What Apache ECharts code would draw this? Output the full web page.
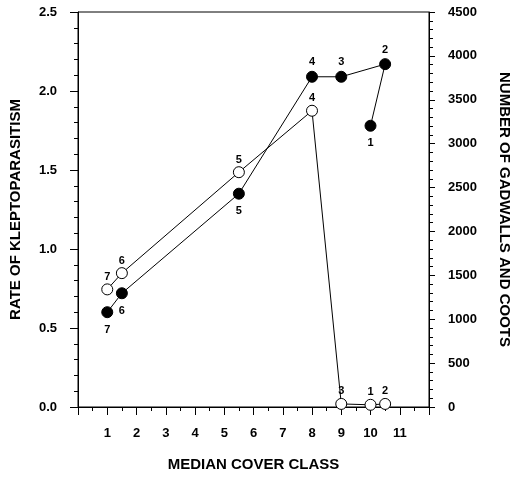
<!DOCTYPE html>
<html>
<head>
<meta charset="utf-8">
<script src="https://cdn.jsdelivr.net/npm/echarts@6/dist/echarts.min.js"></script>
<style>html,body{margin:0;padding:0;background:#fff}#c{width:520px;height:477px}</style>
</head>
<body>
<div id="c"></div>
<script>
// Filled circles: rate of kleptoparasitism (left axis)
const filledX = [1, 1.5, 5.5, 8, 9, 10.5, 10];
const filledY = [0.60, 0.72, 1.35, 2.09, 2.09, 2.17, 1.78];
const filledLabels = ['7', '6', '5', '4', '3', '2', '1'];
// Open circles: number of gadwalls and coots (right axis)
const openX = [1, 1.5, 5.5, 8, 9, 10, 10.5];
const openY = [1340, 1525, 2675, 3375, 35, 25, 35];
const openLabels = ['7', '6', '5', '4', '3', '1', '2'];
const xTicks = [1, 2, 3, 4, 5, 6, 7, 8, 9, 10, 11];
const leftTicks = [0, 0.5, 1.0, 1.5, 2.0, 2.5];
const rightTicks = [0, 500, 1000, 1500, 2000, 2500, 3000, 3500, 4000, 4500];

const FONT = 'Liberation Sans';
const filledBelow = new Set(['7', '6', '5', '1']);

const filledData = filledX.map((x, i) => {
  const below = filledBelow.has(filledLabels[i]);
  return {
    value: [x, filledY[i]],
    label: { position: below ? 'bottom' : 'top', distance: below ? 6 : 3, formatter: filledLabels[i] }
  };
});
const openData = openX.map((x, i) => ({
  value: [x, openY[i]],
  label: { position: 'top', distance: 1, formatter: openLabels[i] }
}));

const axisLabelStyle = { color: '#000', fontFamily: FONT, fontWeight: 'bold', fontSize: 13 };
const nameStyle = { color: '#000', fontFamily: FONT, fontWeight: 'bold', fontSize: 15 };

const chart = echarts.init(document.getElementById('c'), null, { renderer: 'canvas' });
chart.setOption({
  animation: false,
  backgroundColor: '#fff',
  grid: { left: 77, right: 83, top: 12, bottom: 69, show: true, borderColor: '#000', borderWidth: 1 },
  xAxis: {
    type: 'value', min: 0, max: 12, interval: 1,
    name: 'MEDIAN COVER CLASS', nameLocation: 'middle', nameGap: 50, nameTextStyle: nameStyle,
    axisLine: { lineStyle: { color: '#000', width: 1 } },
    axisTick: { length: 8, lineStyle: { color: '#000' } },
    minorTick: { show: true, splitNumber: 2, length: 4, lineStyle: { color: '#000' } },
    splitLine: { show: false },
    axisLabel: Object.assign({}, axisLabelStyle, {
      margin: 20,
      formatter: v => (xTicks.includes(v) ? String(v) : '')
    })
  },
  yAxis: [
    {
      type: 'value', min: 0, max: 2.5, interval: 0.5, position: 'left',
      name: 'RATE OF KLEPTOPARASITISM', nameLocation: 'middle', nameRotate: 90, nameGap: 55,
      nameTextStyle: nameStyle,
      axisLine: { show: true, lineStyle: { color: '#000' } },
      axisTick: { show: true, length: 8, lineStyle: { color: '#000' } },
      minorTick: { show: true, splitNumber: 5, length: 4, lineStyle: { color: '#000' } },
      splitLine: { show: false },
      axisLabel: Object.assign({}, axisLabelStyle, {
        margin: 21,
        formatter: v => (leftTicks.some(t => Math.abs(t - v) < 1e-9) ? v.toFixed(1) : '')
      })
    },
    {
      type: 'value', min: 0, max: 4500, interval: 500, position: 'right',
      name: 'NUMBER OF GADWALLS AND COOTS', nameLocation: 'middle', nameRotate: -90, nameGap: 68,
      nameTextStyle: nameStyle,
      axisLine: { show: true, lineStyle: { color: '#000' } },
      axisTick: { show: true, length: 6, lineStyle: { color: '#000' } },
      minorTick: { show: true, splitNumber: 5, length: 4, lineStyle: { color: '#000' } },
      splitLine: { show: false },
      axisLabel: Object.assign({}, axisLabelStyle, {
        margin: 19,
        formatter: v => (rightTicks.includes(v) ? String(v) : '')
      })
    }
  ],
  series: [
    {
      type: 'line', yAxisIndex: 0, data: filledData,
      symbol: 'circle', symbolSize: 11,
      lineStyle: { color: '#000', width: 1 },
      itemStyle: { color: '#000', borderColor: '#000', borderWidth: 1 },
      label: { show: true, color: '#000', fontFamily: FONT, fontWeight: 'bold', fontSize: 11 },
      z: 3
    },
    {
      type: 'line', yAxisIndex: 1, data: openData,
      symbol: 'circle', symbolSize: 11,
      lineStyle: { color: '#000', width: 1 },
      itemStyle: { color: '#fff', borderColor: '#000', borderWidth: 1 },
      label: { show: true, color: '#000', fontFamily: FONT, fontWeight: 'bold', fontSize: 11 },
      z: 2
    }
  ]
});
</script>
</body>
</html>
